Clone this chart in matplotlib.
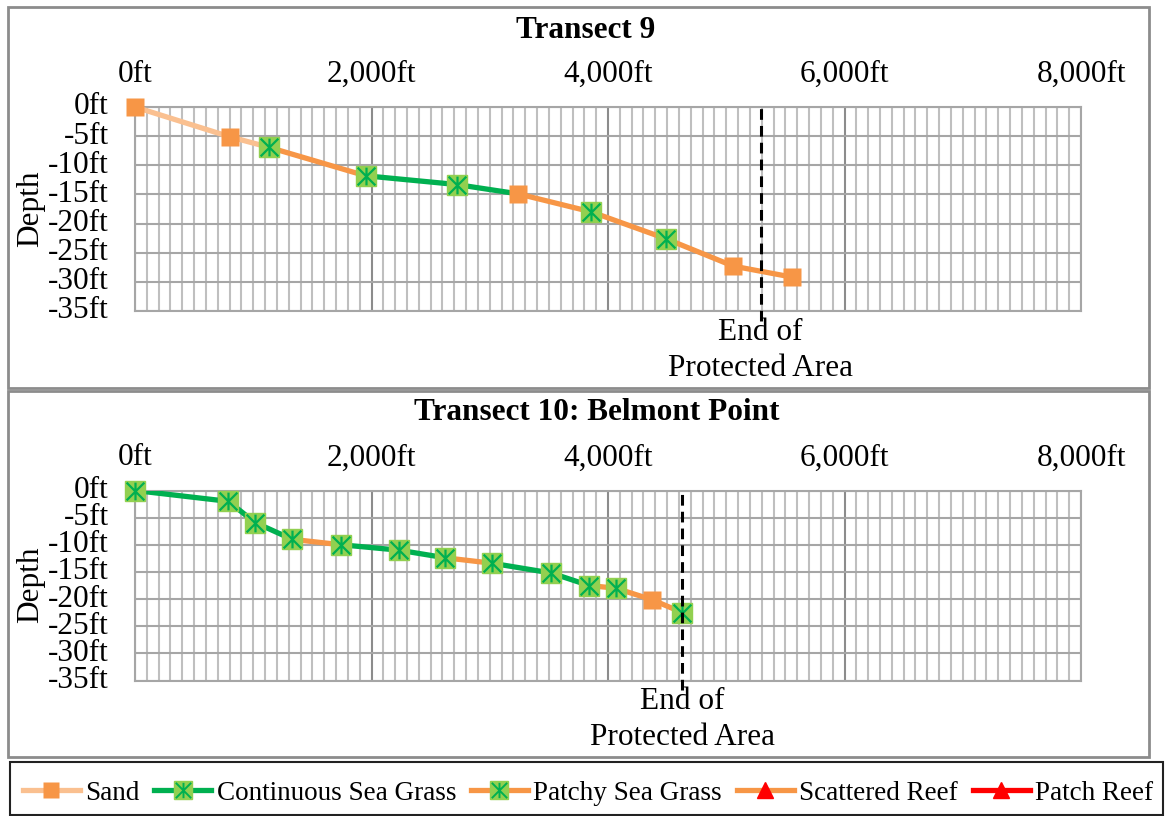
import numpy as np
import matplotlib
matplotlib.use("Agg")
import matplotlib.pyplot as plt
from matplotlib.lines import Line2D
from matplotlib.patches import Rectangle
from matplotlib.path import Path
from matplotlib.ticker import FuncFormatter

plt.rcParams['font.family'] = ['Liberation Serif', 'DejaVu Serif']

# ---------------------------------------------------------------
# DATA (distance along transect in ft, depth in ft)
# ---------------------------------------------------------------
t9_dist = [0, 800, 1130, 1950, 2720, 3240, 3860, 4490, 5060, 5560]
t9_depth = [0, -5.1, -6.9, -11.8, -13.3, -14.9, -18.0, -22.6, -27.3, -29.2]
t9_points = ['Sand', 'Sand', 'Patchy', 'Patchy', 'Continuous', 'Sand',
             'Patchy', 'Patchy', 'Sand', 'Sand']
t9_segments = ['Sand', 'Sand', 'Patchy', 'Continuous', 'Continuous',
               'Patchy', 'Patchy', 'Patchy', 'Patchy']
t9_end = 5290

t10_dist = [0, 790, 1015, 1330, 1745, 2235, 2625, 3020, 3520, 3840, 4065, 4370, 4630]
t10_depth = [0, -2.0, -5.9, -9.0, -10.0, -11.0, -12.4, -13.4, -15.2, -17.5, -18.0, -20.1, -22.5]
t10_points = ['Continuous', 'Continuous', 'Continuous', 'Continuous', 'Patchy',
              'Continuous', 'Continuous', 'Patchy', 'Continuous', 'Continuous',
              'Patchy', 'Sand', 'Patchy']
t10_segments = ['Continuous', 'Continuous', 'Continuous', 'Patchy', 'Continuous',
                'Continuous', 'Patchy', 'Continuous', 'Continuous', 'Patchy',
                'Patchy', 'Patchy']
t10_end = 4630

x_ticks = [0, 2000, 4000, 6000, 8000]
y_ticks = [0, -5, -10, -15, -20, -25, -30, -35]

legend_labels = ['Sand', 'Continuous Sea Grass', 'Patchy Sea Grass',
                 'Scattered Reef', 'Patch Reef']

# ---------------------------------------------------------------
# STYLES
# ---------------------------------------------------------------
line_colors = {'Sand': '#FAC090', 'Continuous': '#00B050', 'Patchy': '#F79646',
               'Scattered': '#F79646', 'Patch': '#FF0000'}
SAND_FILL = '#F79646'
GRASS_FILL = '#92D050'
GRASS_STAR = '#00B050'
LW = 3.8
MS = 15

# asterisk like the Excel "star" marker: vertical bar + X
star = Path([(0, -1), (0, 1), (-1, -1), (1, 1), (-1, 1), (1, -1)],
            [Path.MOVETO, Path.LINETO, Path.MOVETO, Path.LINETO, Path.MOVETO, Path.LINETO])

FS = 22.5


def fmt_ft(v, pos=None):
    return f"{int(v):,}ft"


def draw_transect(ax, dist, depth, points, segments, end_x):
    for i, seg in enumerate(segments):
        ax.plot(dist[i:i + 2], depth[i:i + 2], color=line_colors[seg], lw=LW,
                solid_capstyle='butt', zorder=3)
    for x, y, p in zip(dist, depth, points):
        if p == 'Sand':
            ax.plot(x, y, marker='s', ms=MS - 1.5, mfc=SAND_FILL, mec='none',
                    zorder=4, clip_on=False)
        else:
            ax.plot(x, y, marker='s', ms=MS, mfc=GRASS_FILL, mec='#92D050',
                    zorder=4, clip_on=False)
            ax.plot(x, y, marker=star, ms=MS * 0.85, mec=GRASS_STAR, mew=1.6,
                    mfc='none', zorder=5, clip_on=False)

    ax.axvline(end_x, ymin=-0.05, ymax=1, color='black', lw=2.2,
               ls=(0, (3.5, 2)), zorder=6, clip_on=False)
    ax.annotate("End of\nProtected Area", xy=(end_x, -35), xytext=(0, -5),
                textcoords='offset points', ha='center', va='top',
                fontsize=FS, linespacing=1.3)

    ax.set_xlim(0, 8000)
    ax.set_ylim(-35, 0)
    ax.set_xticks(x_ticks)
    ax.set_xticks(np.arange(0, 8001, 100), minor=True)
    ax.set_yticks(y_ticks)
    ax.xaxis.set_major_formatter(FuncFormatter(fmt_ft))
    ax.yaxis.set_major_formatter(FuncFormatter(fmt_ft))
    ax.xaxis.tick_top()
    ax.tick_params(which='both', length=0, labelsize=FS)
    ax.tick_params(axis='x', pad=13)
    ax.tick_params(axis='y', pad=19)
    for lbl in ax.get_yticklabels():
        lbl.set_verticalalignment('center')

    ax.grid(which='minor', axis='x', color='#BFBFBF', lw=1.5, zorder=0)
    ax.grid(which='major', axis='x', color='#8C8C8C', lw=1.5, zorder=1)
    ax.grid(which='major', axis='y', color='#A6A6A6', lw=1.5, zorder=1)
    ax.set_axisbelow(True)
    for s in ax.spines.values():
        s.set_color('#A6A6A6')
        s.set_linewidth(1.5)


fig = plt.figure(figsize=(11.71, 8.16), dpi=100)
W, H = 1171, 816

# chart boxes
fig.patches.append(Rectangle((8 / W, 1 - 388 / H), 1141 / W, 381 / H, transform=fig.transFigure,
                             fill=False, ec='#8C8C8C', lw=2))
fig.patches.append(Rectangle((8 / W, 1 - 757 / H), 1141 / W, 366 / H, transform=fig.transFigure,
                             fill=False, ec='#8C8C8C', lw=2))
fig.patches.append(Rectangle((10 / W, 1 - 815 / H), 1153 / W, 53 / H, transform=fig.transFigure,
                             fill=False, ec='#222222', lw=1.5))

ax1 = fig.add_axes([135 / W, 1 - 311 / H, 946 / W, 204 / H])
ax2 = fig.add_axes([135 / W, 1 - 680.5 / H, 946 / W, 190 / H])

draw_transect(ax1, t9_dist, t9_depth, t9_points, t9_segments, t9_end)
draw_transect(ax2, t10_dist, t10_depth, t10_points, t10_segments, t10_end)

fig.text(586 / W, 1 - 30 / H, "Transect 9", ha='center', va='center',
         fontsize=FS, fontweight='bold')
fig.text(597 / W, 1 - 413 / H, "Transect 10: Belmont Point", ha='center', va='center',
         fontsize=FS, fontweight='bold')
fig.text(31 / W, 1 - 209 / H, "Depth", rotation=90, ha='center', va='center', fontsize=FS)
fig.text(31 / W, 1 - 585 / H, "Depth", rotation=90, ha='center', va='center', fontsize=FS)

# legend
grass_sq = dict(marker='s', ms=MS - 2, mfc=GRASS_FILL, mec=GRASS_FILL)
grass_st = Line2D([], [], ls='none', marker=star, ms=(MS - 2) * 0.85, mec=GRASS_STAR,
                  mew=1.4, mfc='none')
handles = [
    Line2D([], [], color=line_colors['Sand'], lw=LW, marker='s', ms=MS - 3,
           mfc=SAND_FILL, mec='none'),
    (Line2D([], [], color=line_colors['Continuous'], lw=LW, **grass_sq), grass_st),
    (Line2D([], [], color=line_colors['Patchy'], lw=LW, **grass_sq), grass_st),
    Line2D([], [], color=line_colors['Scattered'], lw=LW, marker='^', ms=MS - 3,
           mfc='#FF0000', mec='#FF0000'),
    Line2D([], [], color=line_colors['Patch'], lw=LW, marker='^', ms=MS - 3,
           mfc='#FF0000', mec='#FF0000'),
]
fig.legend(handles, legend_labels, loc='center', bbox_to_anchor=(588 / W, 1 - 793 / H),
           ncol=5, frameon=False, fontsize=19.5, handlelength=2.1, handletextpad=0.2,
           columnspacing=0.55, borderpad=0)

fig.savefig("out.png", dpi=100)
